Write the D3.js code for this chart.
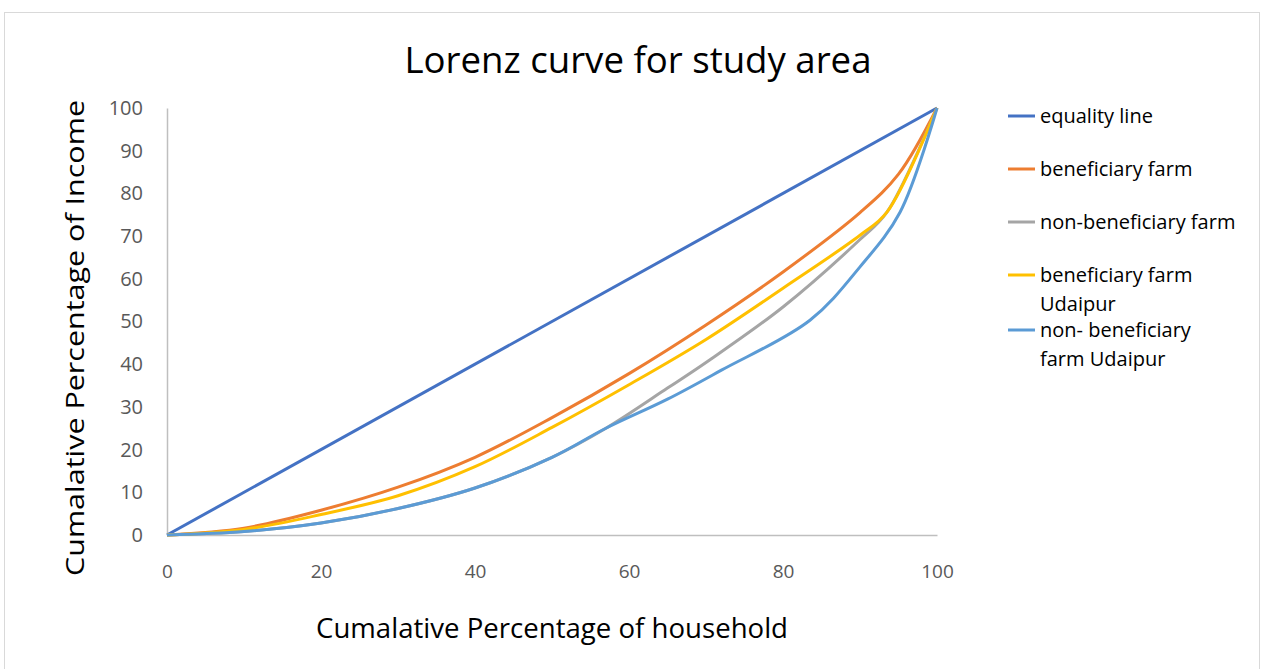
<!DOCTYPE html>
<html><head><meta charset="utf-8">
<script src="https://cdn.jsdelivr.net/npm/d3@7/dist/d3.min.js"></script>
<style>body{margin:0;background:#fff}svg{display:block}</style>
</head><body>
<svg id="c" width="1268" height="669"></svg>
<script>
const title = "Lorenz curve for study area";
const xTitle = "Cumalative Percentage of household";
const yTitle = "Cumalative Percentage of Income";
const xTicks = [0, 20, 40, 60, 80, 100];
const yTicks = [0, 10, 20, 30, 40, 50, 60, 70, 80, 90, 100];

const equalityX = [0, 100];
const equalityY = [0, 100];
const benefX = [0, 10, 20, 30, 40, 50, 60, 70, 80, 90, 95, 100];
const benefY = [0, 1.6, 5.8, 11.2, 18.2, 27.5, 37.8, 49.2, 61.6, 75.5, 84.5, 100];
const nonBenefX = [0, 10, 20, 30, 40, 50, 57, 65, 70, 80, 90, 93.5, 100];
const nonBenefY = [0, 0.8, 2.8, 6.2, 11, 18.2, 25, 34.4, 40.4, 53.4, 69.2, 75.6, 100];
const benefUdX = [0, 10, 20, 30, 40, 50, 60, 70, 80, 90, 93.5, 100];
const benefUdY = [0, 1.3, 4.8, 9.2, 16, 25.2, 35.2, 45.8, 57.8, 70.2, 75.6, 100];
const nonBenefUdX = [0, 10, 20, 30, 40, 50, 57, 65, 72, 83.5, 90, 95.2, 100];
const nonBenefUdY = [0, 0.8, 2.8, 6.2, 11, 18.2, 25, 31.8, 38.6, 50.3, 62.8, 75.6, 100];

const seriesNames = ["equality line", "beneficiary farm", "non-beneficiary farm", "beneficiary farm Udaipur", "non- beneficiary farm Udaipur"];
const legendLines = [["equality line"], ["beneficiary farm"], ["non-beneficiary farm"], ["beneficiary farm", "Udaipur"], ["non- beneficiary", "farm Udaipur"]];
const colors = ["#4472C4", "#ED7D31", "#A5A5A5", "#FFC000", "#5B9BD5"];
const xs = [equalityX, benefX, nonBenefX, benefUdX, nonBenefUdX];
const ys = [equalityY, benefY, nonBenefY, benefUdY, nonBenefUdY];

const svg = d3.select("#c");
svg.append("rect").attr("x", 4.5).attr("y", 12.5).attr("width", 1255).attr("height", 700)
  .attr("fill", "#fff").attr("stroke", "#D9D9D9").attr("stroke-width", 1);

const x = d3.scaleLinear().domain([0, 100]).range([167, 937]);
const y = d3.scaleLinear().domain([0, 100]).range([535, 108]);

// title
svg.append("text").attr("x", 638).attr("y", 73).attr("text-anchor", "middle")
  .attr("font-family", "'Open Sans',sans-serif").attr("font-size", 37)
  .attr("textLength", 467).attr("lengthAdjust", "spacingAndGlyphs")
  .attr("fill", "#000").text(title);

// axes
const yAxis = d3.axisLeft(y).tickValues(yTicks).tickSize(0).tickPadding(24);
const gy = svg.append("g").attr("transform", `translate(${x(0)},0)`).call(yAxis);
gy.select(".domain").attr("stroke", "#BFBFBF").attr("stroke-width", 1.5);
gy.selectAll("text").attr("font-family", "'Open Sans',sans-serif").attr("font-size", 20).attr("fill", "#595959");

const xAxis = d3.axisBottom(x).tickValues(xTicks).tickSize(0).tickPadding(30);
const gx = svg.append("g").attr("transform", `translate(0,${y(0)})`).call(xAxis);
gx.select(".domain").attr("stroke", "#BFBFBF").attr("stroke-width", 1.5);
gx.selectAll("text").attr("font-family", "'Open Sans',sans-serif").attr("font-size", 19).attr("fill", "#595959");

// axis titles
svg.append("text").attr("x", 552).attr("y", 638).attr("text-anchor", "middle")
  .attr("font-family", "'Open Sans',sans-serif").attr("font-size", 27)
  .attr("textLength", 472).attr("lengthAdjust", "spacingAndGlyphs").text(xTitle);
svg.append("text").attr("transform", "translate(84,338) rotate(-90)").attr("text-anchor", "middle")
  .attr("font-family", "'Open Sans',sans-serif").attr("font-size", 26)
  .attr("textLength", 476).attr("lengthAdjust", "spacingAndGlyphs").text(yTitle);

// lines
const line = d3.line().x(d => x(d[0])).y(d => y(d[1])).curve(d3.curveCatmullRom.alpha(0.5));
seriesNames.forEach((name, i) => {
  const pts = xs[i].map((v, j) => [v, ys[i][j]]);
  svg.append("path").datum(pts).attr("d", line).attr("fill", "none")
    .attr("stroke", colors[i]).attr("stroke-width", 3).attr("stroke-linejoin", "round");
});

// legend
const legY = [116, 169, 222, 275, 330];
legendLines.forEach((lines, i) => {
  const g = svg.append("g");
  g.append("line").attr("x1", 1008).attr("x2", 1035).attr("y1", legY[i]).attr("y2", legY[i])
    .attr("stroke", colors[i]).attr("stroke-width", 3);
  lines.forEach((t, k) => {
    g.append("text").attr("x", 1040).attr("y", legY[i] + 7 + k * 29)
      .attr("font-family", "'Open Sans',sans-serif").attr("font-size", 20).attr("fill", "#000").text(t);
  });
});
</script>
</body></html>
